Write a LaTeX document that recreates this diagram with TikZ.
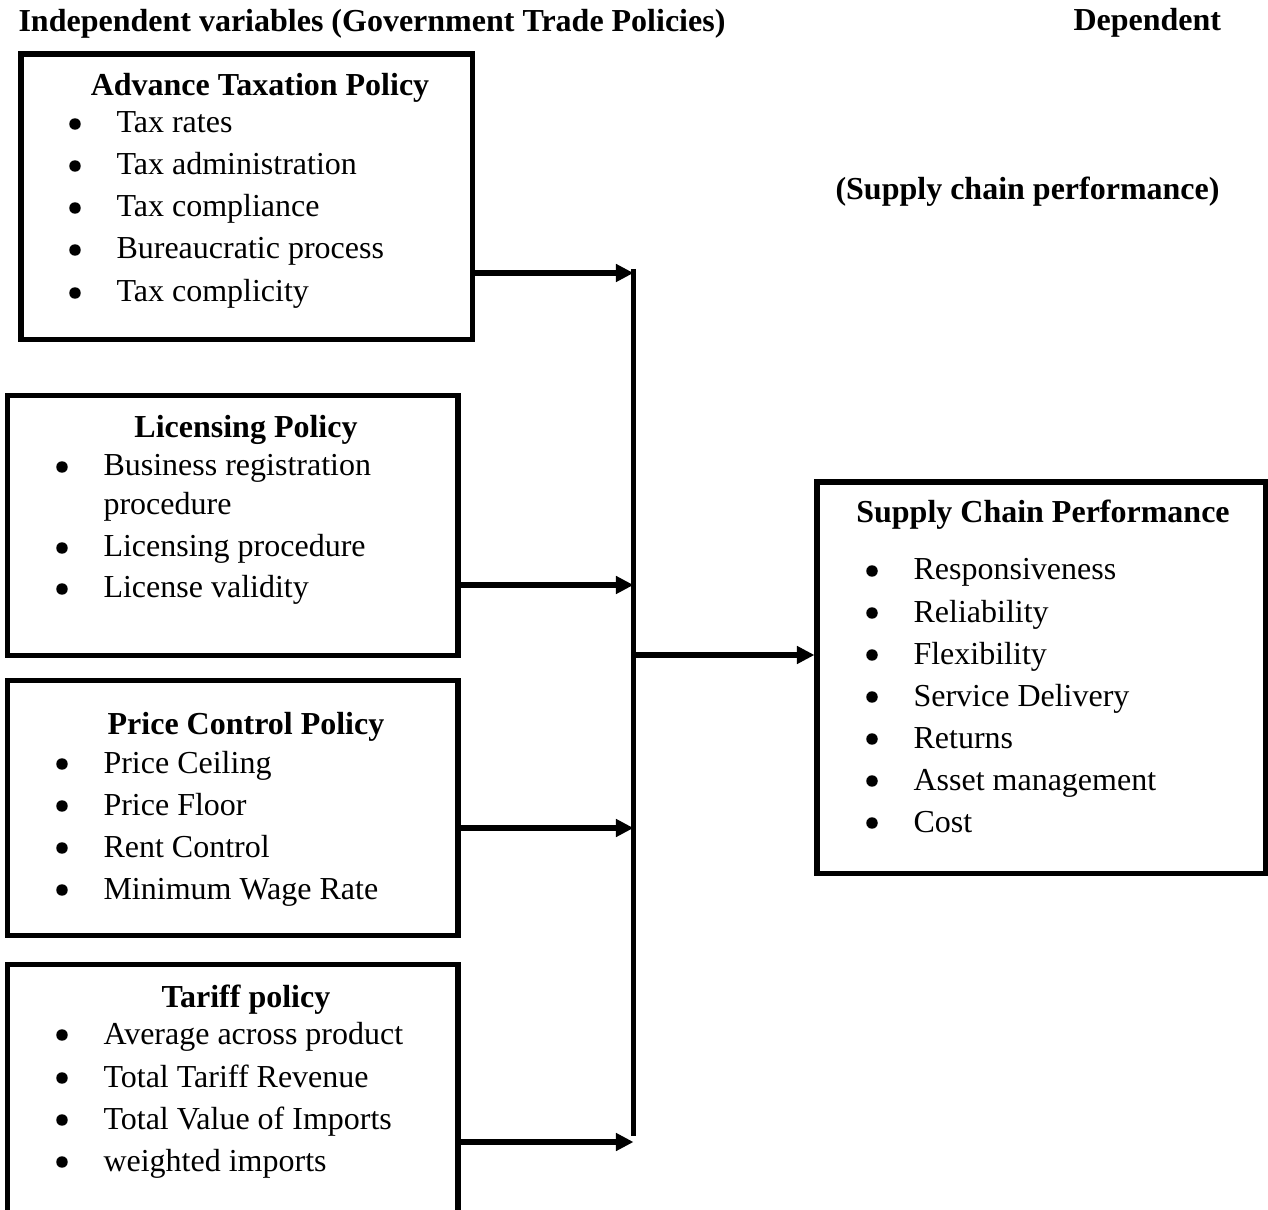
\documentclass[tikz,border=0pt]{standalone}
\usepackage{fontspec}
\setmainfont{Liberation Serif}
\usetikzlibrary{positioning,fit,arrows.meta}
\tikzset{
  policybox/.style={draw, line width=1.9pt, inner sep=0pt},
  boxhead/.style={anchor=base, font=\fontsize{12pt}{14pt}\selectfont\bfseries, inner sep=0pt},
  bulletdot/.style={circle, fill, inner sep=0pt, minimum size=4.3pt},
  itemtext/.style={anchor=base west, inner sep=0pt},
  toptitle/.style={anchor=base west, font=\fontsize{12pt}{14pt}\selectfont\bfseries, inner sep=0pt},
  arrow/.style={-{Triangle[length=6.6pt, width=6.4pt]}, line width=1.9pt}
}
\begin{document}
\begin{tikzpicture}[x=0.375pt, y=-0.375pt, font=\fontsize{12pt}{14pt}\selectfont]
  \useasboundingbox (0,0) rectangle (1268,1210);

  % titles
  \node[toptitle] (indep) at (18,32) {Independent variables (Government Trade Policies)};
  \node[toptitle] (dep) at (1073,31) {Dependent};
  \node[toptitle] (depsub) at (835,200) {(Supply chain performance)};

  % policy boxes
  \node[policybox, fit={(21,54) (472.5,339.5)}] (tax) {};
  \node[policybox, fit={(7.5,395.5) (458,655.5)}] (lic) {};
  \node[policybox, fit={(7.5,680.5) (458,935.5)}] (price) {};
  \node[policybox, fit={(7.5,964.5) (458,1240)}] (tariff) {};
  \node[policybox, fit={(817,482) (1266,873.5)}] (scp) {};

  \node[boxhead] (taxhead) at (260,96) {Advance Taxation Policy};
  \foreach \yy/\txt [count=\i] in {133/Tax rates, 175/Tax administration, 217/Tax compliance, 259/Bureaucratic process, 302/Tax complicity} {
    \node[bulletdot] (taxdot\i) at (75,\yy-9) {};
    \node[itemtext] (taxitem\i) at (116,\yy) {\txt};
  }

  \node[boxhead] (lichead) at (246,438) {Licensing Policy};
  \foreach \yy/\txt [count=\i] in {476/Business registration, 557/Licensing procedure, 598/License validity} {
    \node[bulletdot] (licdot\i) at (62,\yy-9) {};
    \node[itemtext] (licitem\i) at (103,\yy) {\txt};
  }
  \node[itemtext] (licitemcont) at (103,515) {procedure};

  \node[boxhead] (pricehead) at (246,734) {Price Control Policy};
  \foreach \yy/\txt [count=\i] in {773/Price Ceiling, 815/Price Floor, 857/Rent Control, 899/Minimum Wage Rate} {
    \node[bulletdot] (pricedot\i) at (62,\yy-9) {};
    \node[itemtext] (priceitem\i) at (103,\yy) {\txt};
  }

  \node[boxhead] (tariffhead) at (246,1007) {Tariff policy};
  \foreach \yy/\txt [count=\i] in {1044/Average across product, 1087/Total Tariff Revenue, 1129/Total Value of Imports, 1171/weighted imports} {
    \node[bulletdot] (tariffdot\i) at (62,\yy-9) {};
    \node[itemtext] (tariffitem\i) at (103,\yy) {\txt};
  }

  \node[boxhead] (scphead) at (1043,523) {Supply Chain Performance};
  \foreach \yy/\txt [count=\i] in {580/Responsiveness, 622/Reliability, 664/Flexibility, 706/Service Delivery, 748/Returns, 790/Asset management, 832/Cost} {
    \node[bulletdot] (scpdot\i) at (872,\yy-9) {};
    \node[itemtext] (scpitem\i) at (913,\yy) {\txt};
  }

  % collecting bar and arrows
  \coordinate (bartop) at (633.5,269);
  \coordinate (barbot) at (633.5,1136);
  \coordinate (jtax) at (633.5,273);
  \coordinate (jlic) at (633.5,585);
  \coordinate (jprice) at (633.5,828);
  \coordinate (jtariff) at (633.5,1142);
  \coordinate (jout) at (633.5,655);
  \draw[line width=1.9pt] (bartop) -- (barbot);
  \draw[arrow] (tax.east |- jtax) -- (jtax);
  \draw[arrow] (lic.east |- jlic) -- (jlic);
  \draw[arrow] (price.east |- jprice) -- (jprice);
  \draw[arrow] (tariff.east |- jtariff) -- (jtariff);
  \draw[arrow] (jout) -- (scp.west |- jout);

\end{tikzpicture}
\end{document}
